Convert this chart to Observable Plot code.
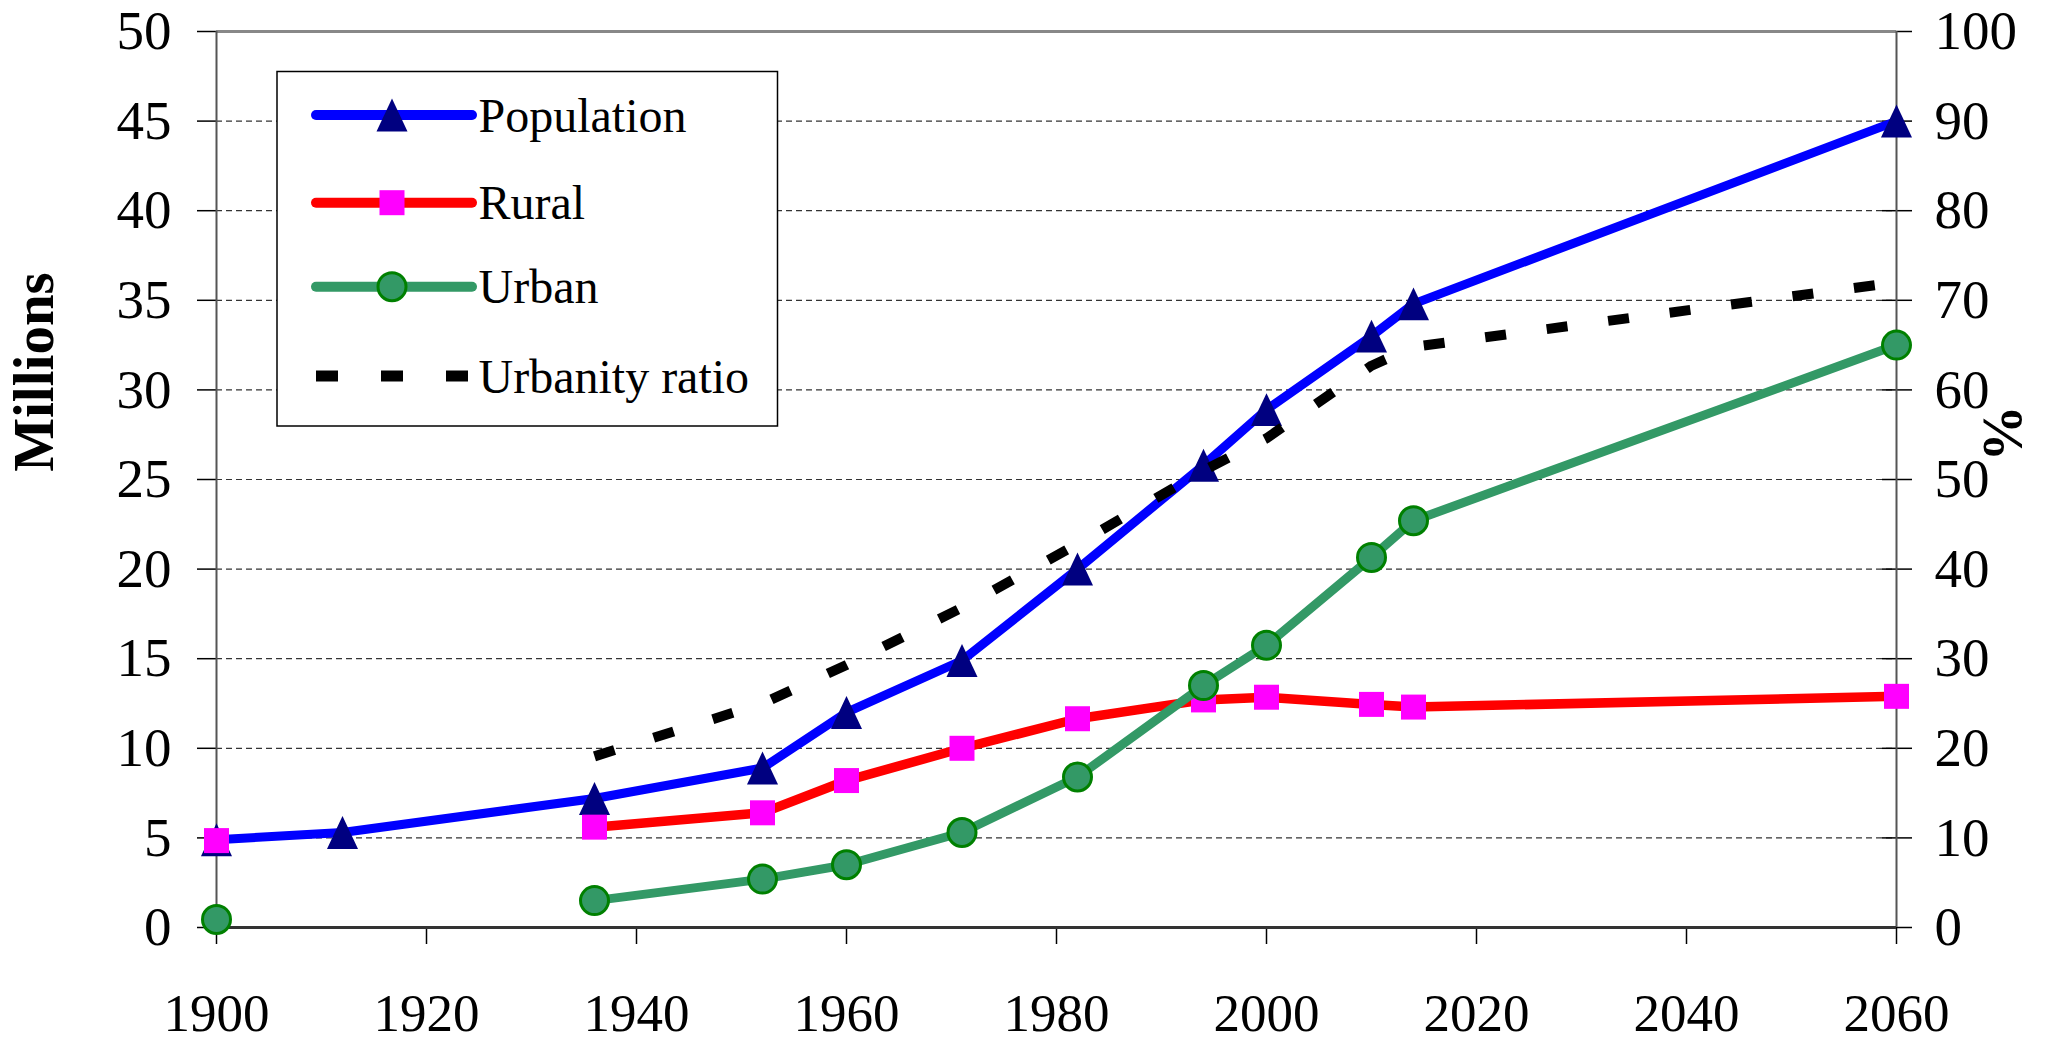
<!DOCTYPE html>
<html><head><meta charset="utf-8">
<script src="https://cdn.jsdelivr.net/npm/d3@7"></script>
<script src="https://cdn.jsdelivr.net/npm/@observablehq/plot@0.6"></script>
<style>
body{margin:0;background:#fff;}
#wrap{position:relative;width:2049px;height:1042px;}
#wrap svg{position:absolute;left:0;top:0;}
</style></head><body><div id="wrap"></div>
<script>
// ---- data; null = no value for that year ----
const years = [1900,1912,1936,1952,1960,1971,1982,1994,2000,2010,2014,2060];
const population = [4.9,5.3,7.2,8.9,12.0,14.9,20.0,25.8,28.9,33.0,34.8,45.0];
const rural = [4.85,null,5.6,6.4,8.2,10.0,11.65,12.7,12.85,12.45,12.3,12.9];
const urban = [0.45,null,1.5,2.7,3.5,5.3,8.4,13.5,15.75,20.65,22.7,32.5];
const ratioPct = [null,null,19.1,25.0,29.3,35.7,42.8,51.0,54.6,62.7,64.8,72.0];
const xTicks = [1900,1920,1940,1960,1980,2000,2020,2040,2060];
const leftTicks = [0,5,10,15,20,25,30,35,40,45,50];
const rightTicks = [0,10,20,30,40,50,60,70,80,90,100];
const seriesNames = ["Population","Rural","Urban","Urbanity ratio"];
const leftLabel = "Millions";
const rightLabel = "%";

const FONT = '"Liberation Serif", "Times New Roman", serif';
const toRows = vs => years.map((x, i) => ({x, v: vs[i] == null ? NaN : vs[i]}));
const popRows = toRows(population);
const rurRows = toRows(rural);
const urbRows = toRows(urban);
const ratioRows = toRows(ratioPct);
const pctToY = p => p / 2; // right axis 0-100 % maps onto left 0-50
const has = d => !isNaN(d.v);

const triSym = {draw(ctx, size){ const r = Math.sqrt(size/Math.PI);
  ctx.moveTo(0, -1.03*r); ctx.lineTo(0.97*r, 1.03*r); ctx.lineTo(-0.97*r, 1.03*r); ctx.closePath(); }};
const sqSym = {draw(ctx, size){ const r = Math.sqrt(size/Math.PI); ctx.rect(-r, -r, 2*r, 2*r); }};

const chart = Plot.plot({
  width: 2049, height: 1042,
  marginLeft: 216, marginRight: 153, marginTop: 31, marginBottom: 115,
  style: {fontFamily: FONT, fontSize: "55px", color: "#000", background: "transparent"},
  x: {domain: [1900, 2060]},
  y: {domain: [0, 50]},
  marks: [
    Plot.ruleY(leftTicks.filter(d => d > 0 && d < 50), {stroke: "#333", strokeWidth: 1.2, strokeDasharray: "6,4"}),
    Plot.axisX({ticks: xTicks, tickSize: 17, tickPadding: 49, tickFormat: d => String(d), label: null, strokeWidth: 1.5, fontSize: 53}),
    Plot.axisY({anchor: "left", ticks: leftTicks, tickSize: 19, tickPadding: 26, tickFormat: d => String(d), label: null, strokeWidth: 1.5}),
    Plot.axisY({anchor: "right", ticks: rightTicks.map(pctToY), tickSize: 30, dx: -15, tickFormat: () => "", label: null, strokeWidth: 1.5}),
    Plot.axisY({anchor: "right", ticks: rightTicks.map(pctToY), tickSize: 0, tickPadding: 38, tickFormat: d => String(Math.round(d*2)), label: null}),
    Plot.ruleY([50], {stroke: "#888", strokeWidth: 3}),
    Plot.ruleX([1900], {stroke: "#555", strokeWidth: 2}),
    Plot.ruleX([2060], {stroke: "#555", strokeWidth: 2}),
    Plot.ruleY([0], {stroke: "#333", strokeWidth: 3}),
    // Population
    Plot.line(popRows, {x: "x", y: "v", stroke: "#0000FF", strokeWidth: 9}),
    Plot.dot(popRows, {filter: has, x: "x", y: "v", symbol: triSym, r: 16, fill: "#000080", stroke: "none"}),
    // Rural (line breaks at the missing year)
    Plot.line(rurRows, {x: "x", y: "v", stroke: "#FF0000", strokeWidth: 9.5}),
    Plot.dot(rurRows, {filter: has, x: "x", y: "v", symbol: sqSym, r: 12.5, fill: "#FF00FF", stroke: "none"}),
    // Urban
    Plot.line(urbRows, {x: "x", y: "v", stroke: "#339966", strokeWidth: 9}),
    Plot.dot(urbRows, {filter: has, x: "x", y: "v", r: 14, fill: "#339966", stroke: "#008000", strokeWidth: 3}),
    // Urbanity ratio (right axis, %)
    Plot.line(ratioRows, {filter: has, x: "x", y: d => pctToY(d.v), stroke: "#000", strokeWidth: 10, strokeDasharray: "21,41", strokeLinecap: "butt", strokeLinejoin: "miter"})
  ]
});
const wrap = document.getElementById("wrap");
wrap.appendChild(chart);

// ---- overlay: legend and axis titles ----
const ov = d3.select(wrap).append("svg").attr("width", 2049).attr("height", 1042)
  .style("font-family", FONT);
ov.append("text").attr("transform", "translate(53,372) rotate(-90)").attr("text-anchor", "middle")
  .attr("font-weight", "bold").attr("font-size", 57).attr("fill", "#000").text(leftLabel);
ov.append("text").attr("transform", "translate(1984,433) rotate(90)").attr("text-anchor", "middle")
  .attr("font-weight", "bold").attr("font-size", 56).attr("fill", "#000").text(rightLabel);

const lg = ov.append("g");
lg.append("rect").attr("x", 277).attr("y", 71.5).attr("width", 500.5).attr("height", 354.5)
  .attr("fill", "#fff").attr("stroke", "#000").attr("stroke-width", 1.5);
const rowsY = [115, 202.7, 286.7, 376];
const lx1 = 316, lx2 = 472, mx = 392, tx = 478.5;
// Population
lg.append("line").attr("x1", lx1).attr("x2", lx2).attr("y1", rowsY[0]).attr("y2", rowsY[0])
  .attr("stroke", "#0000FF").attr("stroke-width", 10).attr("stroke-linecap", "round");
lg.append("path").attr("d", `M${mx},${rowsY[0]-16.5}L${mx+15.5},${rowsY[0]+16.5}L${mx-15.5},${rowsY[0]+16.5}Z`).attr("fill", "#000080");
// Rural
lg.append("line").attr("x1", lx1).attr("x2", lx2).attr("y1", rowsY[1]).attr("y2", rowsY[1])
  .attr("stroke", "#FF0000").attr("stroke-width", 10).attr("stroke-linecap", "round");
lg.append("rect").attr("x", mx-12.5).attr("y", rowsY[1]-12.5).attr("width", 25).attr("height", 25).attr("fill", "#FF00FF");
// Urban
lg.append("line").attr("x1", lx1).attr("x2", lx2).attr("y1", rowsY[2]).attr("y2", rowsY[2])
  .attr("stroke", "#339966").attr("stroke-width", 10).attr("stroke-linecap", "round");
lg.append("circle").attr("cx", mx).attr("cy", rowsY[2]).attr("r", 14).attr("fill", "#339966").attr("stroke", "#008000").attr("stroke-width", 3);
// Urbanity ratio
lg.append("line").attr("x1", lx1).attr("x2", 468).attr("y1", rowsY[3]).attr("y2", rowsY[3])
  .attr("stroke", "#000").attr("stroke-width", 11).attr("stroke-dasharray", "22,43");
seriesNames.forEach((n, i) => {
  lg.append("text").attr("x", tx).attr("y", rowsY[i] + 16.5).attr("font-size", 48).attr("fill", "#000").text(n);
});
</script></body></html>
